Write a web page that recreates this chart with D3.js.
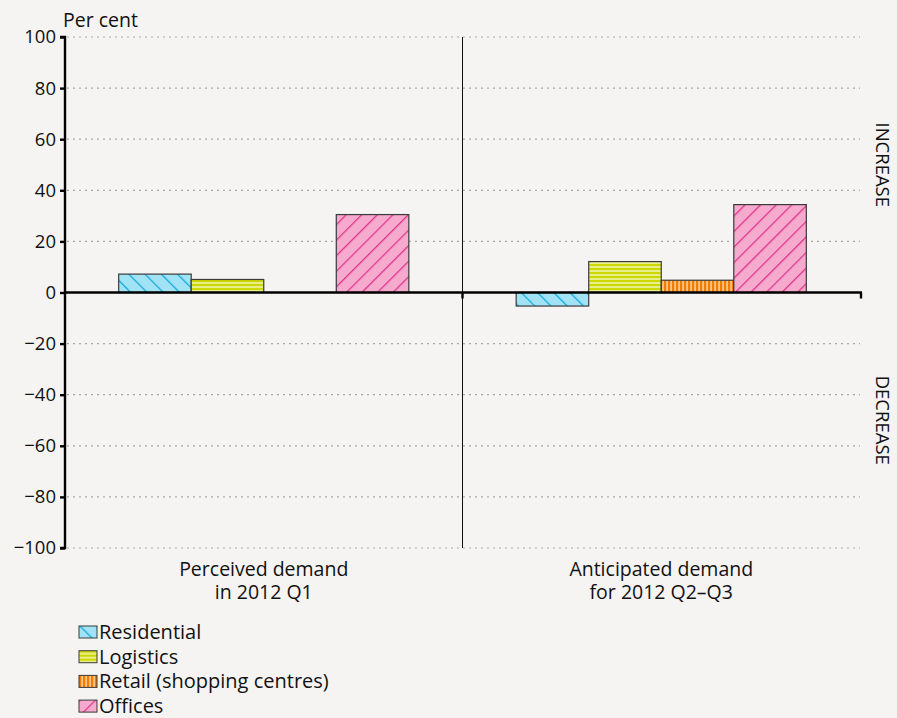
<!DOCTYPE html>
<html>
<head>
<meta charset="utf-8">
<script src="https://cdn.jsdelivr.net/npm/d3@7"></script>
<style>
  html, body { margin: 0; padding: 0; background: #f5f4f2; }
  svg { display: block; }
  text { font-family: "Open Sans", sans-serif; fill: #111; }
</style>
</head>
<body>
<svg id="chart" width="897" height="718"></svg>
<script>
// Demand for commercial property by segment (per cent, net balance)
const groups = ["Perceived demand\nin 2012 Q1", "Anticipated demand\nfor 2012 Q2\u2013Q3"];
const segments = ["Residential", "Logistics", "Retail (shopping centres)", "Offices"];
const residential = [7.2, -5.3];
const logistics = [5.1, 12.1];
const retail = [null, 4.8];
const offices = [30.5, 34.4];
const yTicks = [100, 80, 60, 40, 20, 0, -20, -40, -60, -80, -100];
const sideLabels = [{ text: "INCREASE", v: 50 }, { text: "DECREASE", v: -50 }];

const seriesValues = [residential, logistics, retail, offices];

const svg = d3.select("#chart");
const margin = { left: 65, right: 862, top: 37, bottom: 548 };

// Hatch patterns for each segment
const defs = svg.append("defs");
function hatch(id, fill, stroke, size, width, angle) {
  const p = defs.append("pattern").attr("id", id)
    .attr("patternUnits", "userSpaceOnUse")
    .attr("width", size).attr("height", size)
    .attr("patternTransform", `rotate(${angle})`);
  p.append("rect").attr("width", size).attr("height", size).attr("fill", fill);
  p.append("line").attr("x1", 0).attr("y1", 0).attr("x2", 0).attr("y2", size)
    .attr("stroke", stroke).attr("stroke-width", width);
}
hatch("pat-res", "#a2e2f5", "#15aadf", 11.5, 2.6, -45);
hatch("pat-log", "#e9ee8c", "#cdd700", 4, 4, 90);
hatch("pat-ret", "#f9c48a", "#f07d00", 4, 4.4, 0);
hatch("pat-off", "#f6aacd", "#e0358b", 11, 2.6, 45);
const fills = ["url(#pat-res)", "url(#pat-log)", "url(#pat-ret)", "url(#pat-off)"];

const x0 = d3.scaleBand().domain(groups).range([margin.left, margin.right - 2]).paddingInner(0).paddingOuter(0);
const x1 = d3.scaleBand().domain(segments).range([0, x0.bandwidth()]).paddingOuter(0.74).paddingInner(0);
const y = d3.scaleLinear().domain([-100, 100]).range([margin.bottom, margin.top]);

// Dotted gridlines
svg.append("g").selectAll("line").data(yTicks.filter(d => d !== 0)).join("line")
  .attr("x1", margin.left + 2).attr("x2", margin.right - 2)
  .attr("y1", d => y(d)).attr("y2", d => y(d))
  .attr("stroke", "#a8a8a8").attr("stroke-width", 1.2).attr("stroke-dasharray", "2,4");

// Divider between the two periods
const divX = x0(groups[1]);
svg.append("line").attr("x1", divX).attr("x2", divX)
  .attr("y1", y(100)).attr("y2", y(-100)).attr("stroke", "#111").attr("stroke-width", 1);

// Bars
const bars = [];
groups.forEach((g, gi) => segments.forEach((s, si) => {
  const v = seriesValues[si][gi];
  if (v !== null) bars.push({ g, s, si, v });
}));
svg.append("g").selectAll("rect").data(bars).join("rect")
  .attr("x", d => x0(d.g) + x1(d.s))
  .attr("width", x1.bandwidth())
  .attr("y", d => y(Math.max(0, d.v)))
  .attr("height", d => Math.abs(y(d.v) - y(0)))
  .attr("fill", d => fills[d.si])
  .attr("stroke", "#3a3a3a").attr("stroke-width", 1.2);

// Y axis
const yAxis = d3.axisLeft(y).tickValues(yTicks).tickSize(5).tickPadding(4)
  .tickFormat(d => d < 0 ? "\u2212" + Math.abs(d) : d);
const ya = svg.append("g").attr("transform", `translate(${margin.left},0)`).call(yAxis);
ya.select(".domain").attr("stroke", "#000").attr("stroke-width", 2.4).attr("d", `M-5,${y(100)}H0V${y(-100)}H-5`);
ya.selectAll(".tick line").attr("stroke", "#000").attr("stroke-width", 2.4);
ya.selectAll(".tick text").attr("font-size", 18.5).attr("font-family", "Open Sans, sans-serif").attr("fill", "#111");

// Zero line with small ticks
svg.append("line").attr("x1", margin.left).attr("x2", margin.right)
  .attr("y1", y(0)).attr("y2", y(0)).attr("stroke", "#000").attr("stroke-width", 2.6);
[divX, margin.right - 1].forEach(xx => {
  svg.append("line").attr("x1", xx).attr("x2", xx).attr("y1", y(0)).attr("y2", y(0) + 6)
    .attr("stroke", "#000").attr("stroke-width", 2.4);
});

// Unit label
svg.append("text").attr("x", 63).attr("y", 27).attr("font-size", 19.5).text("Per cent");

// Category labels, one text per line
groups.forEach(g => {
  const cx = x0(g) + x0.bandwidth() / 2;
  g.split("\n").forEach((line, i) => svg.append("text")
    .attr("text-anchor", "middle").attr("font-size", 19.5)
    .attr("x", cx).attr("y", 576 + i * 23).text(line));
});

// Side labels
sideLabels.forEach(d => {
  svg.append("text").attr("text-anchor", "middle").attr("font-size", 18.5)
    .attr("transform", `translate(876,${y(d.v)}) rotate(90)`).text(d.text);
});

// Legend
const leg = svg.append("g").attr("transform", "translate(79,626)");
segments.forEach((s, i) => {
  const row = leg.append("g").attr("transform", `translate(0,${i * 24.7})`);
  row.append("rect").attr("width", 18).attr("height", 12).attr("fill", fills[i])
    .attr("stroke", "#3a3a3a").attr("stroke-width", 1);
  row.append("text").attr("x", 20).attr("y", 13).attr("font-size", 20).text(s);
});
</script>
</body>
</html>
